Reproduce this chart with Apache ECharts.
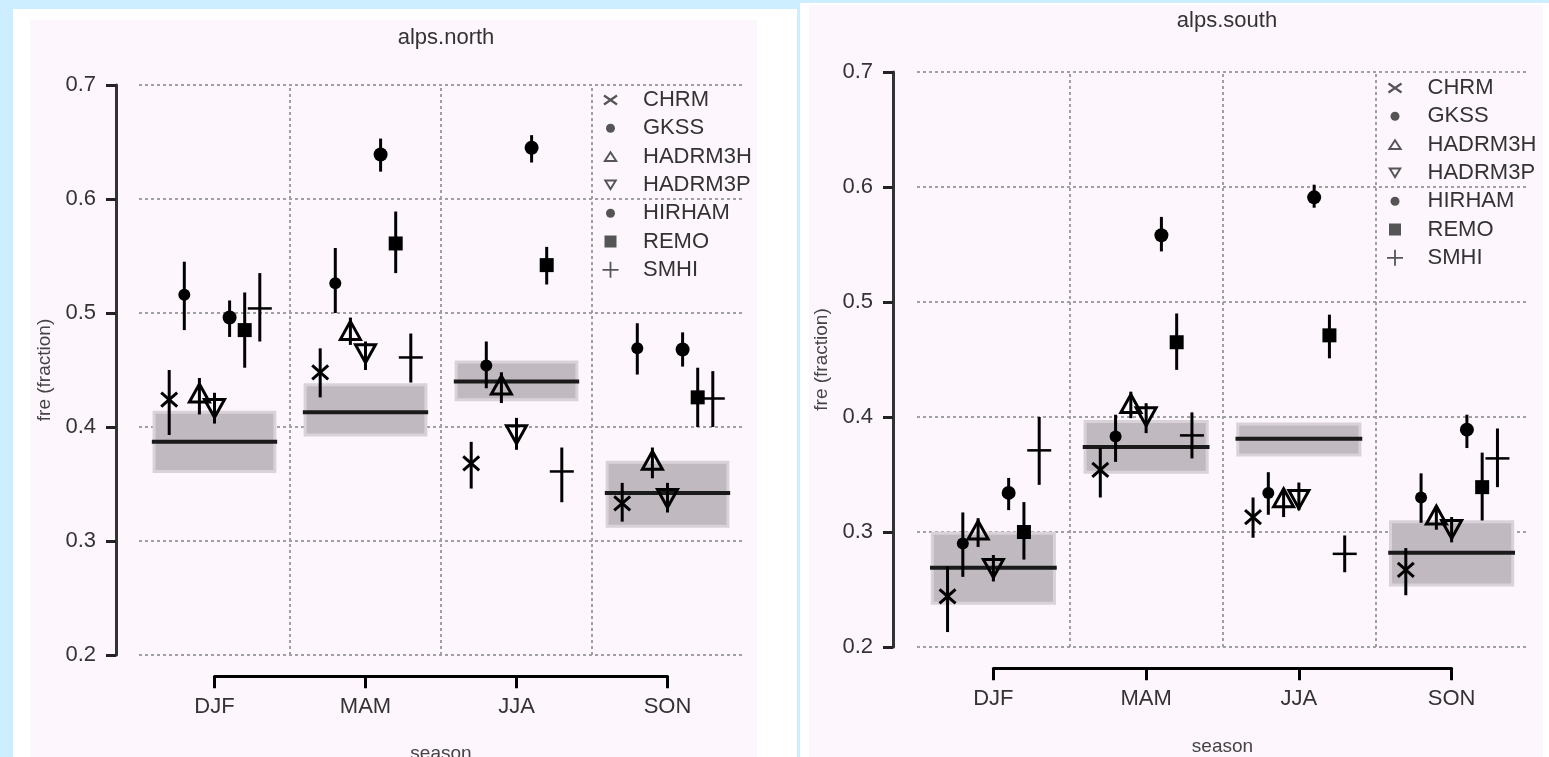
<!DOCTYPE html>
<html>
<head>
<meta charset="utf-8">
<script src="https://cdn.jsdelivr.net/npm/echarts@6/dist/echarts.min.js"></script>
<style>
html,body{margin:0;padding:0;overflow:hidden;background:#cceeff;width:1549px;height:757px;}
.frame{position:absolute;background:#ffffff;}
.panel{position:absolute;background:#fdf7fd;}
#chart{position:absolute;left:0;top:0;width:1549px;height:757px;}
</style>
</head>
<body>
<div class="frame" style="left:13px;top:9px;width:784px;height:760px;"></div>
<div class="panel" style="left:30px;top:20px;width:727px;height:750px;"></div>
<div class="frame" style="left:800px;top:3px;width:749px;height:760px;"></div>
<div class="panel" style="left:809px;top:5px;width:734px;height:760px;"></div>
<div id="chart"></div>
<script>
// ---------------- data ----------------
const panelTitles = ['alps.north', 'alps.south'];
const seasons = ['DJF', 'MAM', 'JJA', 'SON'];
const models = ['CHRM', 'GKSS', 'HADRM3H', 'HADRM3P', 'HIRHAM', 'REMO', 'SMHI'];
const yTicks = [0.2, 0.3, 0.4, 0.5, 0.6, 0.7];
const yName = 'fre (fraction)';
const xName = 'season';

// alps.north: rows = models, columns = seasons
const northMean = [
  [0.424, 0.448, 0.368, 0.333],
  [0.516, 0.526, 0.454, 0.469],
  [0.428, 0.483, 0.435, 0.369],
  [0.418, 0.466, 0.395, 0.339],
  [0.496, 0.639, 0.645, 0.468],
  [0.485, 0.561, 0.542, 0.426],
  [0.504, 0.461, 0.361, 0.425]
];
const northLow = [
  [0.393, 0.426, 0.346, 0.317],
  [0.485, 0.500, 0.434, 0.446],
  [0.411, 0.472, 0.421, 0.355],
  [0.403, 0.450, 0.380, 0.325],
  [0.479, 0.624, 0.632, 0.453],
  [0.452, 0.535, 0.525, 0.400],
  [0.475, 0.439, 0.334, 0.400]
];
const northHigh = [
  [0.450, 0.469, 0.387, 0.351],
  [0.545, 0.557, 0.475, 0.491],
  [0.443, 0.496, 0.448, 0.382],
  [0.430, 0.475, 0.408, 0.351],
  [0.511, 0.653, 0.656, 0.483],
  [0.518, 0.589, 0.558, 0.452],
  [0.535, 0.482, 0.382, 0.449]
];
const obsNorthMean = [0.387, 0.413, 0.440, 0.342];
const obsNorthLow  = [0.361, 0.393, 0.424, 0.313];
const obsNorthHigh = [0.413, 0.437, 0.457, 0.369];

// alps.south
const southMean = [
  [0.244, 0.354, 0.313, 0.267],
  [0.290, 0.383, 0.334, 0.330],
  [0.300, 0.410, 0.328, 0.313],
  [0.270, 0.402, 0.330, 0.304],
  [0.334, 0.558, 0.591, 0.389],
  [0.300, 0.465, 0.471, 0.339],
  [0.371, 0.384, 0.281, 0.364]
];
const southLow = [
  [0.213, 0.330, 0.295, 0.245],
  [0.261, 0.361, 0.315, 0.308],
  [0.287, 0.399, 0.313, 0.302],
  [0.257, 0.386, 0.319, 0.291],
  [0.319, 0.544, 0.582, 0.373],
  [0.276, 0.441, 0.451, 0.310],
  [0.341, 0.364, 0.265, 0.339]
];
const southHigh = [
  [0.270, 0.373, 0.330, 0.286],
  [0.317, 0.402, 0.352, 0.351],
  [0.312, 0.422, 0.337, 0.322],
  [0.280, 0.412, 0.343, 0.313],
  [0.347, 0.574, 0.602, 0.402],
  [0.326, 0.490, 0.489, 0.369],
  [0.400, 0.404, 0.297, 0.390]
];
const obsSouthMean = [0.269, 0.374, 0.381, 0.282];
const obsSouthLow  = [0.238, 0.352, 0.367, 0.254];
const obsSouthHigh = [0.299, 0.396, 0.394, 0.309];

// ---------------- styling / layout ----------------
const FONT = '"Liberation Sans", Arial, Helvetica, sans-serif';
const TXT = '#333';
const GRIDLINE = { type: [3, 3], color: '#a0a0a0', width: 2 };
const OFFSET_STEP = 0.1;   // horizontal dodge between models within a season
const BOX_HALF = 0.4;

const panels = [
  { title: panelTitles[0], mean: northMean, low: northLow, high: northHigh,
    oMean: obsNorthMean, oLow: obsNorthLow, oHigh: obsNorthHigh,
    grid: { left: 139, top: 85, width: 604, height: 570 },
    bracket: { left: 214.5, top: 676, width: 453, height: 1 },
    titleX: 441, titleTop: 22, yOffset: 23, yNameGap: 62, xNameGap: 68,
    legendLeft: 602, legendTop: 89 },
  { title: panelTitles[1], mean: southMean, low: southLow, high: southHigh,
    oMean: obsSouthMean, oLow: obsSouthLow, oHigh: obsSouthHigh,
    grid: { left: 917, top: 72, width: 611, height: 575 },
    bracket: { left: 993.4, top: 668, width: 458.2, height: 1 },
    titleX: 1222, titleTop: 5, yOffset: 24, yNameGap: 62, xNameGap: 69,
    legendLeft: 1386.5, legendTop: 77 }
];

// legend icons: shape in the left 17px of a 36x17 box (corner moveTo points fix the box)
const PAD = 'M0 0 M36 17 ';
const legendIcons = [
  'path://' + PAD + 'M1.37 4.9 L14.37 13.9 L15.63 12.1 L2.63 3.1 Z M2.63 13.9 L15.63 4.9 L14.37 3.1 L1.37 12.1 Z',
  'path://' + PAD + 'M4 8.5 A4.5 4.5 0 1 0 13 8.5 A4.5 4.5 0 1 0 4 8.5 Z',
  'path://' + PAD + 'M8.5 2.5 L16 14 L1 14 Z M8.5 6 L4.6 12 L12.4 12 Z',
  'path://' + PAD + 'M1.5 3 L15.5 3 L8.5 14.5 Z M5 5 L8.5 10.8 L12 5 Z',
  'path://' + PAD + 'M4 8.5 A4.5 4.5 0 1 0 13 8.5 A4.5 4.5 0 1 0 4 8.5 Z',
  'path://' + PAD + 'M2.5 2.5 L14.5 2.5 L14.5 14.5 L2.5 14.5 Z',
  'path://' + PAD + 'M7.6 0.5 L9.4 0.5 L9.4 7.6 L16.5 7.6 L16.5 9.4 L9.4 9.4 L9.4 16.5 L7.6 16.5 L7.6 9.4 L0.5 9.4 L0.5 7.6 L7.6 7.6 Z'
];

function symbolShape(m, cx, cy) {
  const k = '#000';
  switch (m) {
    case 0: return { type: 'group', children: [
      { type: 'line', shape: { x1: cx - 8, y1: cy - 7, x2: cx + 8, y2: cy + 7 }, style: { stroke: k, lineWidth: 3 } },
      { type: 'line', shape: { x1: cx - 8, y1: cy + 7, x2: cx + 8, y2: cy - 7 }, style: { stroke: k, lineWidth: 3 } }
    ] };
    case 1: return { type: 'circle', shape: { cx: cx, cy: cy, r: 6 }, style: { fill: k } };
    case 2: return { type: 'polygon', shape: { points: [[cx, cy - 11], [cx + 10, cy + 7], [cx - 10, cy + 7]] }, style: { fill: 'none', stroke: k, lineWidth: 3 } };
    case 3: return { type: 'polygon', shape: { points: [[cx, cy + 11], [cx + 10, cy - 7], [cx - 10, cy - 7]] }, style: { fill: 'none', stroke: k, lineWidth: 3 } };
    case 4: return { type: 'circle', shape: { cx: cx, cy: cy, r: 7 }, style: { fill: k } };
    case 5: return { type: 'rect', shape: { x: cx - 7, y: cy - 7, width: 14, height: 14 }, style: { fill: k } };
    default: return { type: 'line', shape: { x1: cx - 12, y1: cy, x2: cx + 12, y2: cy }, style: { stroke: k, lineWidth: 2.5 } };
  }
}

const grids = [], xAxes = [], yAxes = [], series = [], titles = [], legends = [];

panels.forEach((p, pi) => {
  const mainIdx = pi * 2, brIdx = pi * 2 + 1;
  grids.push(Object.assign({}, p.grid), Object.assign({}, p.bracket));

  xAxes.push({ gridIndex: mainIdx, type: 'value', min: 0.5, max: seasons.length + 0.5, show: false });
  xAxes.push({
    gridIndex: brIdx, type: 'value', min: 1, max: seasons.length, interval: 1, position: 'bottom',
    axisLine: { show: true, lineStyle: { color: '#000', width: 3 } },
    axisTick: { show: true, length: 12, lineStyle: { color: '#000', width: 3 } },
    axisLabel: { show: true, margin: 20, fontSize: 22, color: TXT, fontFamily: FONT,
      showMinLabel: true, showMaxLabel: true, formatter: v => seasons[Math.round(v) - 1] || '' },
    splitLine: { show: false },
    name: xName, nameLocation: 'middle', nameGap: p.xNameGap,
    nameTextStyle: { fontSize: 19, color: '#444', fontFamily: FONT }
  });

  yAxes.push({
    gridIndex: mainIdx, type: 'value', min: yTicks[0], max: yTicks[yTicks.length - 1],
    interval: +(yTicks[1] - yTicks[0]).toFixed(6), offset: p.yOffset,
    axisLine: { show: true, lineStyle: { color: '#333', width: 3 } },
    axisTick: { show: true, length: 10, lineStyle: { color: '#222', width: 3 } },
    axisLabel: { margin: 20, fontSize: 22, color: TXT, fontFamily: FONT, formatter: v => (+v).toFixed(1) },
    splitLine: { show: true, lineStyle: GRIDLINE },
    name: yName, nameLocation: 'middle', nameGap: p.yNameGap, nameRotate: 90,
    nameTextStyle: { fontSize: 19, color: '#444', fontFamily: FONT }
  });
  yAxes.push({ gridIndex: brIdx, type: 'value', min: 0, max: 1, show: false });

  titles.push({ text: p.title, left: p.titleX, top: p.titleTop, textAlign: 'center',
    textStyle: { fontSize: 22, fontWeight: 'normal', color: TXT, fontFamily: FONT } });

  // observation boxes + vertical separators
  series.push({
    type: 'custom', name: 'obs-' + pi, xAxisIndex: mainIdx, yAxisIndex: mainIdx, silent: true, z: 1,
    data: seasons.map((s, i) => [i + 1, p.oMean[i], p.oLow[i], p.oHigh[i]]),
    renderItem: (params, api) => {
      const x = api.value(0);
      const tl = api.coord([x - BOX_HALF, api.value(3)]);
      const br = api.coord([x + BOX_HALF, api.value(2)]);
      const l1 = api.coord([x - BOX_HALF - 0.015, api.value(1)]);
      const l2 = api.coord([x + BOX_HALF + 0.015, api.value(1)]);
      return { type: 'group', children: [
        { type: 'rect', shape: { x: tl[0], y: tl[1], width: br[0] - tl[0], height: br[1] - tl[1] },
          style: { fill: '#c0b9c0', stroke: '#d9d2d9', lineWidth: 3 } },
        { type: 'line', shape: { x1: l1[0], y1: l1[1], x2: l2[0], y2: l2[1] },
          style: { stroke: '#1a1a1a', lineWidth: 4 } }
      ] };
    },
    markLine: {
      silent: true, symbol: 'none', label: { show: false }, animation: false,
      lineStyle: GRIDLINE,
      data: seasons.slice(1).map((s, i) => ({ xAxis: i + 1.5 }))
    }
  });

  // model points with error bars
  models.forEach((m, mi) => {
    series.push({
      type: 'custom', name: m, xAxisIndex: mainIdx, yAxisIndex: mainIdx, z: 3,
      itemStyle: { color: '#000' },
      data: seasons.map((s, i) => [i + 1 + (mi - 3) * OFFSET_STEP, p.mean[mi][i], p.low[mi][i], p.high[mi][i]]),
      renderItem: (params, api) => {
        const x = api.value(0);
        const c = api.coord([x, api.value(1)]);
        const lo = api.coord([x, api.value(2)]);
        const hi = api.coord([x, api.value(3)]);
        return { type: 'group', children: [
          { type: 'line', shape: { x1: c[0], y1: hi[1], x2: c[0], y2: lo[1] }, style: { stroke: '#000', lineWidth: 3 } },
          symbolShape(mi, c[0], c[1])
        ] };
      }
    });
  });

  legends.push({
    orient: 'vertical', left: p.legendLeft, top: p.legendTop, padding: 0,
    itemWidth: 36, itemHeight: 17, itemGap: 6.3, selectedMode: false,
    textStyle: { fontSize: 22, lineHeight: 22, color: TXT, fontFamily: FONT },
    data: models.map((m, i) => ({ name: m, icon: legendIcons[i], itemStyle: { color: '#555', borderWidth: 0 } }))
  });
});

const chart = echarts.init(document.getElementById('chart'), null, { renderer: 'canvas' });
chart.setOption({
  animation: false,
  backgroundColor: 'transparent',
  title: titles,
  legend: legends,
  grid: grids,
  xAxis: xAxes,
  yAxis: yAxes,
  series: series
});
</script>
</body>
</html>
